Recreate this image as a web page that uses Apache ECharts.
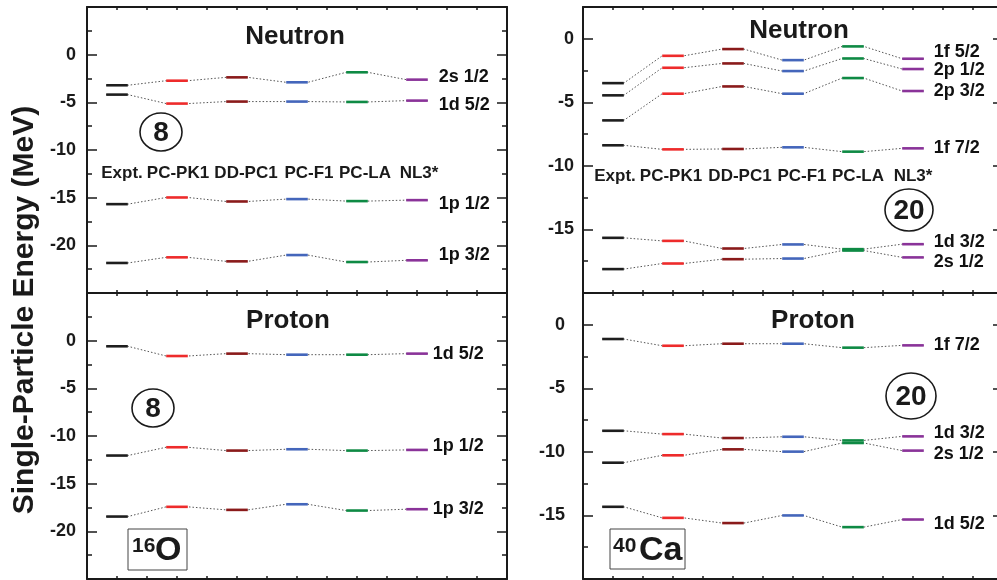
<!DOCTYPE html>
<html>
<head>
<meta charset="utf-8">
<script src="https://cdn.jsdelivr.net/npm/echarts@6/dist/echarts.min.js"></script>
<style>html,body{margin:0;padding:0;background:#fff}#c{width:997px;height:580px}</style>
</head>
<body>
<div id="c"></div>
<script>
// ---------- data ----------
const models = ['Expt.', 'PC-PK1', 'DD-PC1', 'PC-F1', 'PC-LA', 'NL3*'];

// 16O neutron
const o16nNames = ['2s 1/2', '1d 5/2', '1p 1/2', '1p 3/2'];
const o16n_2s12 = [-3.21, -2.73, -2.38, -2.90, -1.85, -2.62];
const o16n_1d52 = [-4.19, -5.13, -4.92, -4.92, -4.96, -4.82];
const o16n_1p12 = [-15.68, -14.98, -15.40, -15.15, -15.36, -15.26];
const o16n_1p32 = [-21.85, -21.26, -21.68, -21.02, -21.75, -21.57];
// 16O proton
const o16pNames = ['1d 5/2', '1p 1/2', '1p 3/2'];
const o16p_1d52 = [-0.59, -1.61, -1.36, -1.47, -1.47, -1.36];
const o16p_1p12 = [-12.05, -11.18, -11.53, -11.39, -11.53, -11.46];
const o16p_1p32 = [-18.45, -17.43, -17.75, -17.16, -17.82, -17.68];
// 40Ca neutron
const ca40nNames = ['1f 5/2', '2p 1/2', '2p 3/2', '1f 7/2', '1d 3/2', '2s 1/2'];
const ca40n_1f52 = [-3.49, -1.34, -0.81, -1.68, -0.60, -1.57];
const ca40n_2p12 = [-4.45, -2.28, -1.94, -2.54, -1.55, -2.38];
const ca40n_2p32 = [-6.42, -4.32, -3.75, -4.32, -3.09, -4.11];
const ca40n_1f72 = [-8.38, -8.70, -8.67, -8.54, -8.88, -8.62];
const ca40n_1d32 = [-15.66, -15.90, -16.50, -16.18, -16.55, -16.16];
const ca40n_2s12 = [-18.12, -17.68, -17.34, -17.29, -16.66, -17.20];
// 40Ca proton
const ca40pNames = ['1f 7/2', '1d 3/2', '2s 1/2', '1d 5/2'];
const ca40p_1f72 = [-1.12, -1.65, -1.49, -1.49, -1.80, -1.62];
const ca40p_1d32 = [-8.34, -8.60, -8.91, -8.81, -9.10, -8.78];
const ca40p_2s12 = [-10.85, -10.27, -9.80, -9.98, -9.30, -9.90];
const ca40p_1d52 = [-14.32, -15.19, -15.60, -15.00, -15.92, -15.32];

// ---------- styling / layout (not data) ----------
const colors = ['#1e1e1e', '#ee2b2b', '#8a1a1a', '#4466bb', '#0e8a44', '#8a3399'];
const HALF = 0.18;
const FONT = '"Liberation Sans", Arial, sans-serif';
const INK = '#1a1a1a';

const panels = [
  { levels: [o16n_2s12, o16n_1d52, o16n_1p12, o16n_1p32], names: o16nNames,
    labelDy: [-3, 4, 4, -5], labelDist: 11, ymin: -25, ymax: 5, labelMargin: 11 },
  { levels: [o16p_1d52, o16p_1p12, o16p_1p32], names: o16pNames,
    labelDy: [0, -4, 0], labelDist: 5, ymin: -25, ymax: 5, labelMargin: 11 },
  { levels: [ca40n_1f52, ca40n_2p12, ca40n_2p32, ca40n_1f72, ca40n_1d32, ca40n_2s12], names: ca40nNames,
    labelDy: [-7, 1, 0, 0, -2, 5], labelDist: 10, ymin: -20, ymax: 2.5, labelMargin: 9 },
  { levels: [ca40p_1f72, ca40p_1d32, ca40p_2s12, ca40p_1d52], names: ca40pNames,
    labelDy: [0, -3, 3, 5], labelDist: 10, ymin: -20, ymax: 2.5, labelMargin: 18 }
];
const grids = [
  { left: 87, top: 7, width: 420, height: 286, outerBoundsMode: 'none', containLabel: false },
  { left: 87, top: 293, width: 420, height: 286, outerBoundsMode: 'none', containLabel: false },
  { left: 583, top: 7, width: 420, height: 286, outerBoundsMode: 'none', containLabel: false },
  { left: 583, top: 293, width: 420, height: 286, outerBoundsMode: 'none', containLabel: false }
];

const xAxes = [], yAxes = [], series = [];
panels.forEach((p, g) => {
  const xBase = { type: 'value', gridIndex: g, min: 0, max: 7, interval: 0.5,
    axisLine: { onZero: false, lineStyle: { color: INK, width: 2 } },
    axisTick: { inside: true, length: 3, lineStyle: { color: INK, width: 1.5 } },
    axisLabel: { show: false }, splitLine: { show: false } };
  xAxes.push(Object.assign({}, xBase, { position: 'bottom' }));
  xAxes.push(Object.assign({}, xBase, { position: 'top' }));
  const yBase = { type: 'value', gridIndex: g, min: p.ymin, max: p.ymax, interval: 5,
    axisLine: { show: true, onZero: false, lineStyle: { color: INK, width: 2 } },
    axisTick: { inside: true, length: 10, lineStyle: { color: INK, width: 1.5 } },
    minorTick: { show: true, splitNumber: 2, length: 5, lineStyle: { color: INK, width: 1.5 } },
    splitLine: { show: false } };
  yAxes.push(Object.assign({}, yBase, { position: 'left',
    axisLabel: { show: true, margin: p.labelMargin, color: INK, fontSize: 18, fontWeight: 'bold',
      fontFamily: FONT, showMinLabel: false, showMaxLabel: false } }));
  yAxes.push(Object.assign({}, yBase, { position: 'right', axisLabel: { show: false } }));

  const xi = 2 * g, yi = 2 * g;
  // dotted connectors
  p.levels.forEach((vals) => {
    const pts = [];
    vals.forEach((v, m) => { pts.push([m + 0.5 - HALF, v]); pts.push([m + 0.5 + HALF, v]); });
    series.push({ type: 'line', xAxisIndex: xi, yAxisIndex: yi, data: pts, symbol: 'none',
      silent: true, animation: false, z: 2,
      lineStyle: { color: '#555', width: 1, type: [1.5, 2] } });
  });
  // solid level segments
  const segs = [];
  p.levels.forEach((vals) => vals.forEach((v, m) => segs.push([m + 0.5, v, m])));
  series.push({ type: 'custom', xAxisIndex: xi, yAxisIndex: yi, data: segs, animation: false, z: 5,
    renderItem: function (params, api) {
      const x = api.value(0), y = api.value(1), m = api.value(2);
      const a = api.coord([x - HALF, y]), b = api.coord([x + HALF, y]);
      return { type: 'line', shape: { x1: a[0], y1: a[1], x2: b[0], y2: b[1] },
        style: { stroke: colors[m], lineWidth: 2.6 } };
    } });
  // level name labels
  series.push({ type: 'scatter', xAxisIndex: xi, yAxisIndex: yi, symbolSize: 0, silent: true,
    animation: false, z: 6, itemStyle: { color: INK, opacity: 1 },
    label: { show: true, position: 'right', distance: p.labelDist,
      formatter: (pr) => pr.name, color: '#111', fontSize: 18, fontWeight: 'bold',
      fontFamily: FONT, textBorderWidth: 0, opacity: 1 },
    data: p.levels.map((vals, k) => ({ value: [models.length - 0.5 + HALF, vals[models.length - 1]],
      name: p.names[k], label: { offset: [0, p.labelDy[k]] } })) });
});

// ---------- annotations ----------
function txt(x, y, text, size, align) {
  return { type: 'text', x: x, y: y, z: 10, style: { text: text, font: 'bold ' + size + 'px ' + FONT,
    fill: INK, align: align || 'center', verticalAlign: 'middle',
    textAlign: align || 'center', textVerticalAlign: 'middle' } };
}
const modelCentersL = [122, 178, 246, 309, 365, 419];
const modelCentersR = [615, 671, 740, 802, 858, 913];
const graphics = [
  { type: 'text', x: 25, y: 310, rotation: Math.PI / 2, z: 10,
    style: { text: 'Single-Particle Energy (MeV)', font: 'bold 30px ' + FONT, fill: INK,
      align: 'center', verticalAlign: 'middle', textAlign: 'center', textVerticalAlign: 'middle' } },
  txt(295, 37, 'Neutron', 26), txt(799, 31, 'Neutron', 26),
  txt(288, 321, 'Proton', 26), txt(813, 321, 'Proton', 26)
];
models.forEach((m, i) => {
  graphics.push(txt(modelCentersL[i], 173, m, 17));
  graphics.push(txt(modelCentersR[i], 176, m, 17));
});
const circ = (cx, cy, rx, ry, t) => [
  { type: 'ellipse', z: 10, shape: { cx: cx, cy: cy, rx: rx, ry: ry },
    style: { fill: 'none', stroke: INK, lineWidth: 1.6 } },
  txt(cx, cy + 1, t, 28)
];
graphics.push(...circ(161, 132, 21, 19, '8'));
graphics.push(...circ(153, 408, 21, 19, '8'));
graphics.push(...circ(909, 210, 24, 21, '20'));
graphics.push(...circ(911, 396, 25, 23, '20'));
// nucleus boxes
graphics.push({ type: 'rect', z: 10, shape: { x: 128, y: 529, width: 59, height: 41 },
  style: { fill: '#fff', stroke: '#444', lineWidth: 1 } });
graphics.push(txt(132, 546, '16', 21, 'left'));
graphics.push(txt(155, 551, 'O', 34, 'left'));
graphics.push({ type: 'rect', z: 10, shape: { x: 610, y: 529, width: 75, height: 40 },
  style: { fill: '#fff', stroke: '#444', lineWidth: 1 } });
graphics.push(txt(613, 546, '40', 21, 'left'));
graphics.push(txt(639, 551, 'Ca', 34, 'left'));

const chart = echarts.init(document.getElementById('c'), null, { renderer: 'canvas' });
chart.setOption({
  animation: false,
  backgroundColor: '#fff',
  grid: grids,
  xAxis: xAxes,
  yAxis: yAxes,
  series: series,
  graphic: graphics
});
</script>
</body>
</html>
